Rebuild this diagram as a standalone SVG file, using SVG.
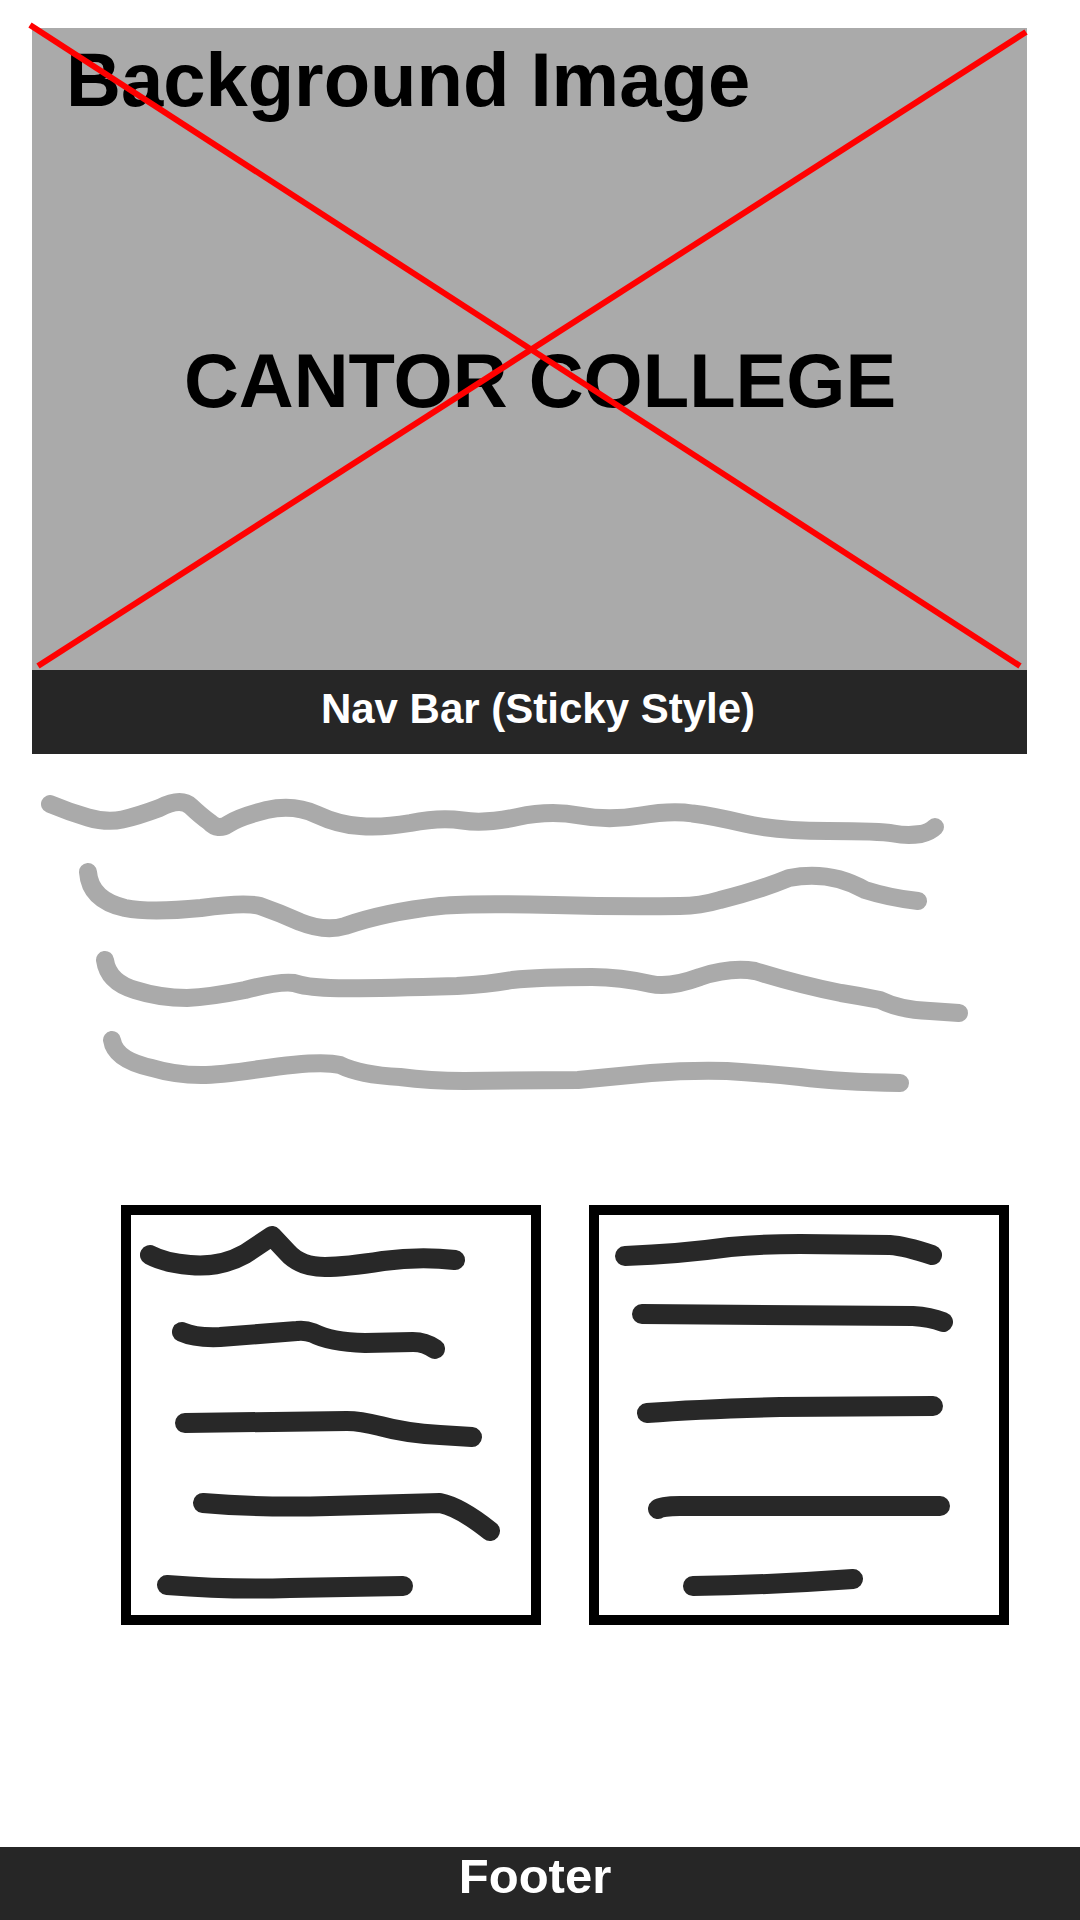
<svg xmlns="http://www.w3.org/2000/svg" width="1080" height="1920" viewBox="0 0 1080 1920">
  <style>
    .t { font-family: "Liberation Sans", Arial, sans-serif; font-weight: bold; }
    .gray { fill: none; stroke: #aaaaaa; stroke-width: 18; stroke-linecap: round; stroke-linejoin: round; }
    .ink { fill: none; stroke: #282828; stroke-width: 20; stroke-linecap: round; stroke-linejoin: round; }
    .box { fill: #ffffff; stroke: #000000; stroke-width: 10; }
    .bar { fill: #262626; }
  </style>
  <rect x="0" y="0" width="1080" height="1920" fill="#ffffff"/>

  <g id="background-image">
    <rect x="32" y="28" width="995" height="642" fill="#aaaaaa"/>
    <text class="t" x="66" y="106" font-size="76" fill="#000000">Background Image</text>
    <text class="t" x="540" y="407" font-size="76" fill="#000000" text-anchor="middle">CANTOR COLLEGE</text>
    <line x1="30" y1="25" x2="1020" y2="666" stroke="#ff0000" stroke-width="6"/>
    <line x1="1026" y1="32" x2="38" y2="666" stroke="#ff0000" stroke-width="6"/>
  </g>

  <g id="nav-bar">
    <rect class="bar" x="32" y="670" width="995" height="84"/>
    <text class="t" x="538" y="723" font-size="42" fill="#ffffff" text-anchor="middle">Nav Bar (Sticky Style)</text>
  </g>

  <g id="intro-text">
    <path class="gray" d="M50,804 Q69,812 88,817.5 Q107,823 122.5,819.5 Q138,816 159.5,808 Q181,797 191,806.5 Q201,816 209.5,822 Q218,831 228.5,824 Q239,817 266.5,810 Q294,804 316.5,814.5 Q339,825 360,826 Q381,828 410.5,823 Q440,817 462.5,820.5 Q485,824 517.5,817 Q550,810 579.5,815.5 Q609,821 640.5,815.5 Q672,810 692.5,813.5 Q713,816 744.5,823.5 Q776,831 828,831 Q880,831 893.5,833.5 Q907,836 921,834 Q930,832 935,827"/>
    <path class="gray" d="M88,872 Q90,900 125,908 Q150,913 201,908 Q245,902 260,906 Q280,913 300,922 Q325,932 345,926 Q385,912 440,906 Q470,903 554,905 Q620,907 680,906 Q700,906 720,900 Q760,890 789,878 Q830,870 865,890 Q890,898 918,901"/>
    <path class="gray" d="M105,960 Q108,982 135,990 Q160,998 187,998 Q210,997 245,990 Q280,981 294,983 Q305,987 330,988 Q360,989 457,986 Q490,984 512,980 Q540,977 592,977 Q620,977 651,984 Q670,988 700,977 Q730,967 755,971 Q800,985 841,993 Q860,996 880,1000 Q900,1010 930,1011 Q945,1012 959,1013"/>
    <path class="gray" d="M112,1040 Q115,1060 152,1068 Q175,1075 201,1075 Q220,1075 260,1069 Q320,1060 340,1065 Q360,1075 400,1077 Q430,1081 464,1081 L578,1080 Q610,1077 651,1073 Q690,1070 727,1071 Q760,1073 800,1077 Q840,1082 900,1083"/>
  </g>

  <g id="card-left">
    <rect class="box" x="126" y="1210" width="410" height="410"/>
    <path class="ink" d="M150,1255 Q165,1263 190,1265 Q220,1268 245,1254 L272,1236 L287,1252 Q300,1267 325,1267 Q345,1267 383,1261 Q420,1256 455,1260"/>
    <path class="ink" d="M182,1332 Q195,1338 220,1337 Q260,1334 297,1331 Q305,1330 313,1333 Q330,1342 365,1343 L413,1342 Q425,1342 435,1349"/>
    <path class="ink" d="M185,1423 L347,1421 Q360,1421 380,1426 Q405,1433 440,1435 L472,1437"/>
    <path class="ink" d="M203,1503 Q260,1508 330,1506 L440,1503 Q460,1507 490,1531"/>
    <path class="ink" d="M167,1585 Q230,1590 290,1588 L403,1586"/>
  </g>

  <g id="card-right">
    <rect class="box" x="594" y="1210" width="410" height="410"/>
    <path class="ink" d="M625,1256 Q680,1254 730,1247 Q760,1244 800,1244 L890,1245 Q905,1246 932,1255"/>
    <path class="ink" d="M642,1314 L913,1316 Q930,1317 943,1322"/>
    <path class="ink" d="M647,1413 Q700,1409 780,1407 L933,1406"/>
    <path class="ink" d="M658,1509 Q662,1506 680,1506 L940,1506"/>
    <path class="ink" d="M693,1586 Q770,1585 853,1579"/>
  </g>

  <g id="footer">
    <rect class="bar" x="0" y="1847" width="1080" height="73"/>
    <text class="t" x="535" y="1893" font-size="49" fill="#ffffff" text-anchor="middle">Footer</text>
  </g>
</svg>
